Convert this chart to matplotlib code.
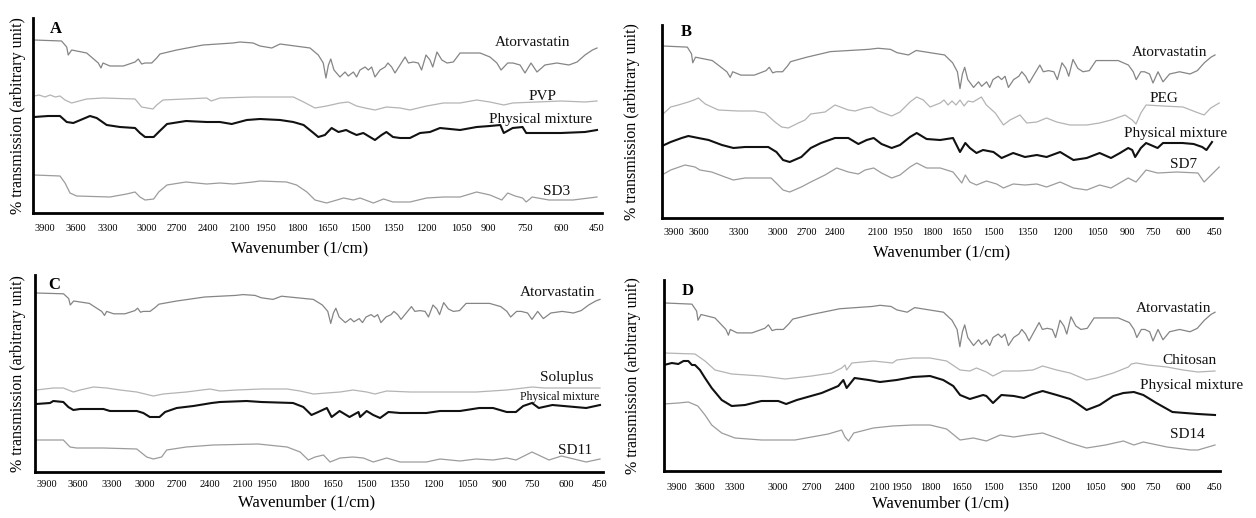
import numpy as np
import matplotlib
matplotlib.use("Agg")
import matplotlib.pyplot as plt

W, H = 1256, 518
plt.rcParams['font.family'] = ['Liberation Serif', 'DejaVu Serif']

TICKS = [3900, 3600, 3300, 3000, 2700, 2400, 2100, 1950, 1800, 1650,
         1500, 1350, 1200, 1050, 900, 750, 600, 450]
tick_labels = [str(t) for t in TICKS]

# ---------------- data (wavenumber, % transmission arbitrary) ----------------
# Atorvastatin spectrum, relative to its top baseline
atorvastatin_wn = [3990, 3740, 3690, 3675, 3642, 3500, 3391, 3366, 3347, 3285, 3182, 3092, 3067, 3041,
                   3015, 2953, 2903, 2870, 2703, 2448, 2166, 2100, 2025, 1985, 1922, 1882, 1737, 1697,
                   1673, 1660, 1648, 1637, 1622, 1594, 1570, 1555, 1531, 1516, 1500, 1477, 1462, 1447,
                   1432, 1409, 1386, 1373, 1356, 1341, 1318, 1295, 1280, 1258, 1235, 1220, 1200, 1183,
                   1171, 1153, 1132, 1110, 1083, 1054, 1000, 944, 892, 864, 847, 820, 799, 770, 750,
                   725, 700, 667, 617, 567, 533, 500, 469, 450]
atorvastatin_t = [0, -1, -7, -15, -10, -13, -23, -28, -23, -26, -26, -22, -19, -24,
                  -23, -23, -18, -14, -10, -5, -3, -2, -3, -6, -8, -4, -8, -15,
                  -23, -38, -25, -19, -30, -37, -32, -36, -32, -37, -30, -27, -30, -27,
                  -37, -30, -27, -23, -27, -33, -25, -17, -23, -22, -23, -30, -15, -20,
                  -27, -12, -20, -23, -22, -13, -13, -13, -17, -23, -30, -23, -23, -25, -33,
                  -23, -32, -25, -23, -25, -22, -15, -10, -8]

# Panel A
pvp_wn = [3990, 3950, 3900, 3850, 3800, 3755, 3706, 3642, 3500, 3347, 3092, 3041, 2940, 2903, 2840,
          2413, 2370, 2288, 2025, 1985, 1818, 1768, 1713, 1657, 1594, 1555, 1516, 1477, 1432, 1380,
          1318, 1273, 1197, 1125, 1054, 963, 892, 836, 800, 700, 600, 500, 450]
pvp_t = [117, 118, 116, 118, 116, 117, 113, 110, 114, 115, 114, 106, 104, 108, 113,
         115, 112, 115, 116, 116, 116, 111, 105, 107, 110, 111, 107, 105, 103, 106,
         105, 103, 107, 110, 110, 113, 111, 108, 110, 111, 112, 111, 112]
pma_wn = [3990, 3870, 3755, 3690, 3626, 3469, 3406, 3312, 3208, 3092, 3054, 3015, 2933, 2883, 2800,
          2613, 2413, 2288, 2178, 2061, 1985, 1882, 1818, 1768, 1720, 1697, 1665, 1633, 1601, 1565,
          1547, 1516, 1485, 1432, 1402, 1380, 1350, 1318, 1273, 1227, 1183, 1140, 1054, 963, 892,
          850, 836, 800, 760, 745, 700, 600, 500, 450]
pma_t = [96, 97, 97, 91, 90, 97, 95, 88, 86, 85, 80, 76, 76, 81, 89,
         92, 91, 91, 89, 93, 94, 93, 91, 88, 80, 76, 78, 85, 81, 83,
         81, 78, 80, 73, 78, 81, 76, 75, 75, 80, 81, 85, 83, 86, 87,
         88, 80, 85, 86, 80, 80, 80, 81, 83]
sd3_wn = [3990, 3755, 3706, 3658, 3594, 3285, 3157, 3092, 3054, 3015, 2933, 2883, 2800, 2613, 2413,
          2288, 2163, 2025, 1985, 1851, 1802, 1752, 1713, 1657, 1608, 1577, 1531, 1500, 1439, 1393,
          1350, 1273, 1197, 1125, 1054, 963, 892, 844, 820, 790, 760, 745, 720, 650, 550, 450]
sd3_t = [38, 37, 30, 20, 17, 16, 19, 21, 16, 13, 14, 21, 28, 31, 29,
         30, 29, 31, 32, 31, 28, 21, 13, 10, 13, 15, 13, 15, 10, 14,
         11, 11, 15, 16, 16, 21, 18, 13, 20, 17, 15, 11, 16, 13, 13, 16]

# Panel B
peg_wn = [4000, 3928, 3848, 3728, 3660, 3608, 3553, 3455, 3305, 3177, 3100, 3023, 2962, 2893, 2790,
          2721, 2660, 2507, 2400, 2307, 2260, 2190, 2144, 2098, 2018, 1968, 1914, 1879, 1845, 1810,
          1759, 1740, 1720, 1700, 1680, 1660, 1640, 1620, 1597, 1556, 1532, 1490, 1454, 1425, 1381,
          1351, 1308, 1266, 1223, 1166, 1094, 1037, 980, 910, 870, 848, 820, 790, 700, 600, 540,
          501, 470, 420]
peg_t = [103, 111, 113, 116, 118, 120, 114, 108, 107, 107, 105, 96, 91, 90, 95,
         98, 104, 106, 113, 108, 107, 110, 111, 107, 102, 106, 116, 121, 118, 111,
         115, 118, 113, 117, 113, 118, 112, 117, 116, 121, 113, 105, 93, 98, 103,
         95, 96, 100, 96, 93, 93, 95, 98, 103, 98, 94, 105, 113, 112, 111, 106,
         103, 110, 115]
pmb_wn = [4000, 3928, 3808, 3728, 3608, 3528, 3428, 3342, 3254, 3075, 3012, 2948, 2879, 2759, 2660,
          2550, 2400, 2307, 2237, 2179, 2130, 2079, 2018, 1968, 1914, 1879, 1828, 1759, 1695, 1660,
          1634, 1612, 1580, 1548, 1498, 1462, 1411, 1359, 1308, 1266, 1208, 1151, 1094, 1037, 980,
          935, 893, 870, 853, 820, 790, 750, 727, 700, 650, 603, 550, 510, 490, 464]
pmb_t = [72, 76, 80, 82, 80, 78, 73, 70, 71, 71, 66, 58, 56, 61, 70,
         75, 80, 80, 74, 78, 80, 74, 70, 73, 81, 85, 79, 78, 80, 66,
         75, 70, 65, 68, 66, 60, 65, 61, 63, 61, 66, 58, 60, 65, 60,
         65, 70, 68, 61, 70, 75, 72, 70, 75, 75, 75, 74, 71, 68, 76]
sd7_wn = [4000, 3928, 3768, 3648, 3593, 3505, 3405, 3342, 3254, 3053, 2998, 2948, 2879, 2759, 2660,
          2507, 2388, 2307, 2237, 2190, 2130, 2079, 2018, 1968, 1914, 1879, 1828, 1759, 1695, 1651,
          1634, 1612, 1580, 1532, 1484, 1454, 1411, 1359, 1308, 1266, 1208, 1151, 1094, 1037, 980,
          893, 848, 790, 727, 630, 530, 501, 420]
sd7_t = [43, 48, 53, 51, 48, 46, 41, 38, 40, 40, 33, 28, 26, 31, 36,
         43, 50, 46, 44, 48, 50, 45, 40, 43, 51, 55, 50, 50, 46, 35,
         43, 36, 33, 37, 34, 30, 34, 33, 34, 31, 36, 30, 28, 33, 30,
         40, 36, 48, 45, 46, 45, 36, 51]

# Panel C
soluplus_wn = [3990, 3839, 3742, 3645, 3582, 3464, 3347, 3227, 3075, 2922, 2830, 2615, 2400, 2309,
               2157, 1985, 1856, 1795, 1736, 1677, 1618, 1559, 1497, 1459, 1406, 1300, 1153, 1007,
               865, 750, 697, 450]
soluplus_t = [82, 84, 84, 80, 82, 85, 84, 82, 80, 76, 78, 80, 83, 81,
              82, 83, 83, 81, 78, 79, 80, 82, 80, 78, 81, 80, 80, 80,
              82, 85, 84, 84]
pmc_wn = [3990, 3871, 3839, 3742, 3694, 3645, 3582, 3376, 3318, 3075, 3015, 2955, 2864, 2812, 2703,
          2551, 2385, 2309, 2078, 1985, 1828, 1781, 1745, 1715, 1677, 1656, 1620, 1575, 1534, 1527,
          1497, 1467, 1436, 1398, 1345, 1229, 1169, 1081, 993, 928, 865, 823, 790, 750, 720, 660,
          511, 450]
pmc_t = [68, 69, 71, 70, 65, 62, 63, 63, 61, 61, 59, 55, 55, 60, 64,
         66, 69, 70, 71, 70, 69, 65, 57, 60, 64, 55, 61, 55, 60, 55,
         61, 57, 54, 60, 59, 59, 61, 61, 64, 64, 60, 60, 66, 69, 64, 67,
         64, 67]
sd11_wn = [3990, 3742, 3677, 3613, 3376, 3075, 2984, 2922, 2844, 2797, 2615, 2370, 2006, 1856, 1795,
           1759, 1729, 1692, 1663, 1618, 1559, 1512, 1467, 1406, 1345, 1288, 1229, 1169, 1081, 1007,
           928, 865, 823, 750, 675, 620, 511, 450]
sd11_t = [32, 32, 25, 24, 24, 23, 15, 13, 15, 22, 25, 27, 28, 25, 20,
          12, 15, 17, 10, 14, 15, 14, 10, 14, 10, 10, 10, 13, 11, 13,
          12, 14, 12, 20, 12, 16, 10, 13]

# Panel D
chitosan_wn = [4000, 3707, 3600, 3500, 3333, 3116, 2938, 2703, 2521, 2430, 2400, 2386, 2341, 2157,
               2015, 1986, 1891, 1800, 1722, 1659, 1612, 1580, 1532, 1500, 1456, 1382, 1323, 1279,
               1215, 1157, 1086, 1043, 967, 898, 880, 850, 780, 680, 600, 530, 450]
chitosan_t = [118, 117, 110, 101, 97, 95, 92, 95, 98, 103, 106, 101, 108, 110,
              108, 111, 113, 113, 110, 101, 100, 103, 99, 95, 100, 100, 101, 105,
              101, 98, 91, 93, 98, 104, 107, 108, 106, 104, 101, 99, 100]
pmd_wn = [4000, 3940, 3886, 3830, 3779, 3740, 3707, 3654, 3600, 3533, 3433, 3333, 3230, 3116, 2998,
          2928, 2834, 2612, 2461, 2415, 2386, 2318, 2197, 2100, 1986, 1891, 1800, 1738, 1691, 1659,
          1612, 1548, 1532, 1500, 1463, 1408, 1364, 1323, 1279, 1215, 1157, 1129, 1086, 1029, 967,
          921, 865, 808, 733, 653, 530, 450]
pmd_t = [106, 108, 107, 110, 110, 106, 106, 101, 93, 83, 71, 65, 66, 70, 70,
         67, 71, 78, 85, 91, 83, 93, 91, 89, 91, 94, 95, 91, 85, 76,
         72, 76, 75, 68, 76, 75, 73, 77, 80, 76, 72, 68, 61, 66, 75,
         78, 79, 76, 68, 59, 57, 56]
sd14_wn = [4000, 3886, 3779, 3677, 3600, 3533, 3433, 3300, 3116, 2850, 2552, 2430, 2400, 2370, 2325,
           2157, 2015, 1891, 1800, 1722, 1659, 1595, 1532, 1468, 1408, 1351, 1279, 1215, 1157, 1086,
           1002, 921, 865, 808, 680, 565, 530, 450]
sd14_t = [67, 68, 69, 65, 56, 46, 38, 33, 31, 31, 37, 41, 34, 30, 38,
          43, 45, 46, 46, 42, 31, 33, 30, 36, 34, 36, 38, 33, 28, 23,
          26, 30, 26, 29, 24, 21, 21, 26]

# ---------------- layout (pixel boxes, tick pixel positions) ----------------
GRAY_ATOR = '#858585'
GRAY_POLY = '#b4b4b4'
GRAY_SD = '#9c9c9c'
BLACK = '#111111'

panels = [
    dict(letter='A', box=(33, 18, 602, 213), letter_xy=(56, 29),
         ticks=[45, 76, 108, 147, 177, 208, 240, 266, 297, 328, 360, 393, 426, 461, 488, 525, 561, 597],
         xlabel_xy=(300, 248), ylabel_x=18, tick_y=229,
         ator=(173, 1.0), ator_lab=(495, 43),
         series=[(pvp_wn, pvp_t, GRAY_POLY, 0.9, 'PVP', (529, 97), 11),
                 (pma_wn, pma_t, BLACK, 1.5, 'Physical mixture', (489, 120), 11),
                 (sd3_wn, sd3_t, GRAY_SD, 0.9, 'SD3', (543, 192), 11)]),
    dict(letter='B', box=(662, 25, 1222, 218), letter_xy=(686, 32),
         ticks=[674, 699, 739, 778, 807, 835, 878, 903, 932, 962, 993, 1027, 1062, 1097, 1127, 1153, 1183, 1215],
         xlabel_xy=(942, 252), ylabel_x=632, tick_y=233,
         ator=(172, 1.12), ator_lab=(1132, 53),
         series=[(peg_wn, peg_t, GRAY_POLY, 0.9, 'PEG', (1150, 98), 11),
                 (pmb_wn, pmb_t, BLACK, 1.5, 'Physical mixture', (1124, 133), 11),
                 (sd7_wn, sd7_t, GRAY_SD, 0.9, 'SD7', (1170, 165), 11)]),
    dict(letter='C', box=(35, 275, 603, 472), letter_xy=(54, 285),
         ticks=[47, 78, 112, 145, 177, 210, 243, 267, 299, 333, 366, 399, 433, 467, 499, 532, 566, 600],
         xlabel_xy=(307, 502), ylabel_x=18, tick_y=485,
         ator=(179, 0.8), ator_lab=(520, 293),
         series=[(soluplus_wn, soluplus_t, GRAY_POLY, 0.9, 'Soluplus', (540, 377), 11),
                 (pmc_wn, pmc_t, BLACK, 1.5, 'Physical mixture', (520, 397), 8.5),
                 (sd11_wn, sd11_t, GRAY_SD, 0.9, 'SD11', (558, 450), 11)]),
    dict(letter='D', box=(664, 280, 1220, 471), letter_xy=(688, 291),
         ticks=[677, 705, 735, 778, 812, 845, 880, 902, 930, 962, 993, 1027, 1060, 1095, 1128, 1153, 1183, 1215],
         xlabel_xy=(941, 503), ylabel_x=633, tick_y=488,
         ator=(168, 1.15), ator_lab=(1136, 308),
         series=[(chitosan_wn, chitosan_t, GRAY_POLY, 0.9, 'Chitosan', (1162, 360), 11),
                 (pmd_wn, pmd_t, BLACK, 1.5, 'Physical mixture', (1140, 385), 11),
                 (sd14_wn, sd14_t, GRAY_SD, 0.9, 'SD14', (1170, 435), 11)]),
]

fig = plt.figure(figsize=(W / 100, H / 100), dpi=100)
fig.patch.set_facecolor('white')


def fx(x):
    return x / W


def fy(y):
    return 1 - y / H


for p in panels:
    l, t, r, b = p['box']
    ax = fig.add_axes([fx(l), fy(b), (r - l) / W, (b - t) / H])
    fr = (np.array(p['ticks'], float) - l) / (r - l)
    # wavenumber nodes (descending) and their fraction of axis width (ascending)
    nodes_wn = np.array([6000.0, 4000.0] + TICKS + [400.0, -1600.0])
    nodes_fr = np.concatenate([[-1.0], [0.0], fr, [1.0], [2.0]])
    # increasing transform: g = -fraction (so wavenumber and g increase together)
    g_nodes = -nodes_fr
    a_wn = nodes_wn[::-1].copy()       # ascending wavenumber
    a_g = g_nodes[::-1].copy()         # ascending g

    def fwd(w, a_wn=a_wn, a_g=a_g):
        return np.interp(w, a_wn, a_g)

    def inv(g, a_g=a_g, a_wn=a_wn):
        return np.interp(g, a_g, a_wn)

    ax.set_xscale('function', functions=(fwd, inv))
    ax.set_xlim(4000, 400)
    ax.set_ylim(0, b - t)

    off, gain = p['ator']
    ax.plot(atorvastatin_wn, off + gain * np.array(atorvastatin_t, float),
            color=GRAY_ATOR, lw=0.9)
    fig.text(fx(p['ator_lab'][0]), fy(p['ator_lab'][1]), 'Atorvastatin',
             fontsize=11, ha='left', va='center', color='#111111')
    for wn, vals, col, lw, lab, (lx, ly), fs in p['series']:
        ax.plot(wn, vals, color=col, lw=lw)
        fig.text(fx(lx), fy(ly), lab, fontsize=fs, ha='left', va='center', color='#111111')

    ax.set_xticks(TICKS)
    ax.set_xticklabels(tick_labels)
    ax.set_yticks([])
    ax.tick_params(axis='x', length=0, pad=(p['tick_y'] - b - 5) * 0.72, labelsize=7.5)
    for s in ('top', 'right'):
        ax.spines[s].set_visible(False)
    for s in ('left', 'bottom'):
        ax.spines[s].set_linewidth(2.0)
        ax.spines[s].set_color('black')
    ax.set_facecolor('none')

    fig.text(fx(p['letter_xy'][0]), fy(p['letter_xy'][1]), p['letter'],
             fontsize=12, fontweight='bold', ha='center', va='center')
    fig.text(fx(p['xlabel_xy'][0]), fy(p['xlabel_xy'][1]), 'Wavenumber (1/cm)',
             fontsize=12, ha='center', va='center')
    fig.text(fx(p['ylabel_x']), fy((t + b) / 2), '% transmission (arbitrary unit)',
             fontsize=11.5, rotation=90, ha='center', va='center')

fig.savefig('out.png', dpi=100, facecolor='white')
